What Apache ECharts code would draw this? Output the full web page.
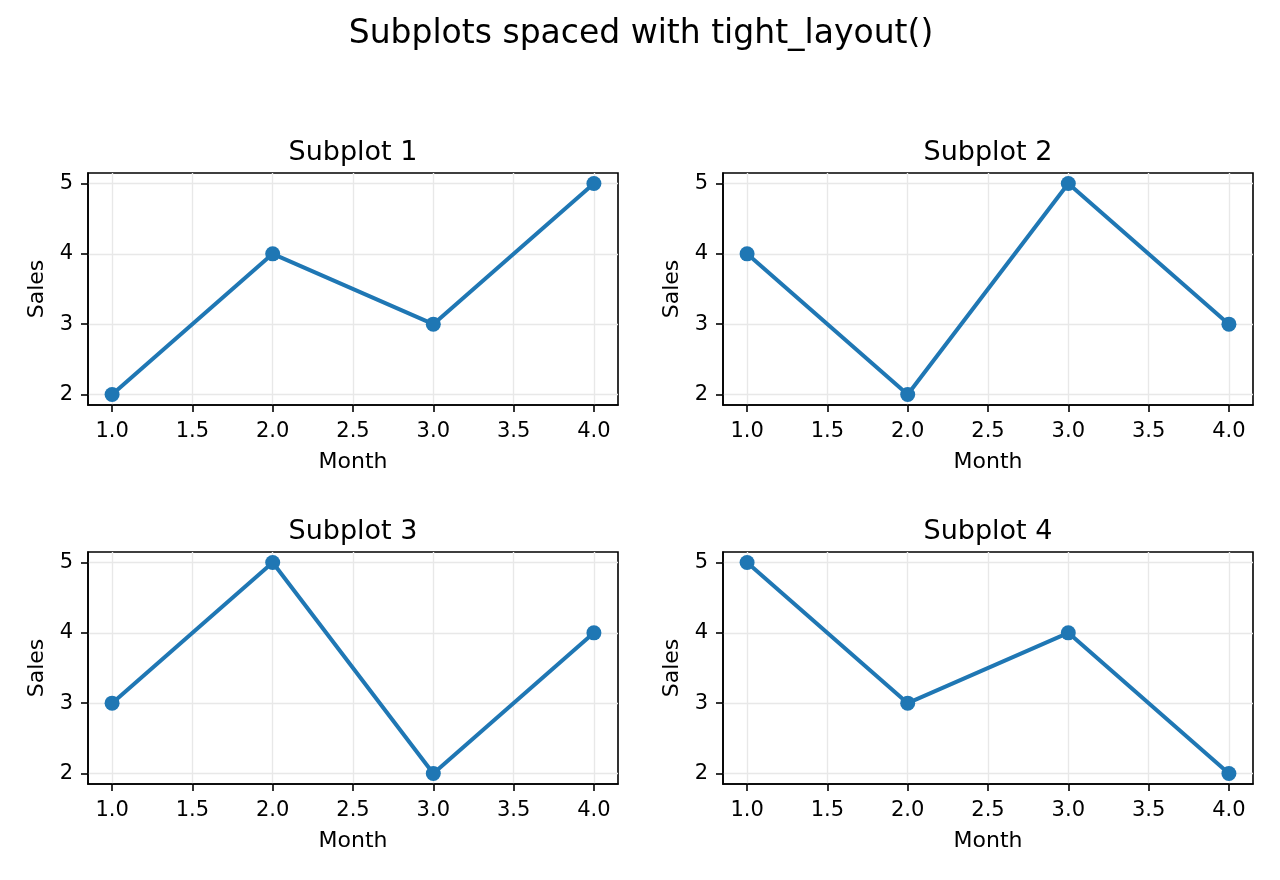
<!DOCTYPE html>
<html>
<head>
<meta charset="utf-8">
<script src="https://cdn.jsdelivr.net/npm/echarts@6/dist/echarts.min.js"></script>
<style>html,body{margin:0;padding:0;background:#fff}#c{width:1280px;height:880px}</style>
</head>
<body>
<div id="c"></div>
<script>
const months = [1, 2, 3, 4];
const sales1 = [2, 4, 3, 5];
const sales2 = [4, 2, 5, 3];
const sales3 = [3, 5, 2, 4];
const sales4 = [5, 3, 4, 2];
const xTicks = [1.0, 1.5, 2.0, 2.5, 3.0, 3.5, 4.0];
const yTicks = [2, 3, 4, 5];
const subTitles = ['Subplot 1', 'Subplot 2', 'Subplot 3', 'Subplot 4'];
const allSales = [sales1, sales2, sales3, sales4];

const FONT = 'DejaVu Sans';
const grids = [
  {left: 88, top: 173, width: 530, height: 232},
  {left: 723, top: 173, width: 530, height: 232},
  {left: 88, top: 552, width: 530, height: 232},
  {left: 723, top: 552, width: 530, height: 232}
];

const option = {
  animation: false,
  backgroundColor: '#fff',
  title: [{
    text: 'Subplots spaced with tight_layout()',
    left: 636, top: 13, textAlign: 'center',
    textStyle: {fontFamily: FONT, fontSize: 33, fontWeight: 'normal', color: '#000'}
  }].concat(subTitles.map((t, i) => ({
    text: t,
    left: grids[i].left + grids[i].width / 2 - 5, top: grids[i].top - 39, textAlign: 'center',
    textStyle: {fontFamily: FONT, fontSize: 27, fontWeight: 'normal', color: '#000'}
  }))),
  grid: grids.map(g => Object.assign({show: true, borderColor: '#000', borderWidth: 1.6, backgroundColor: 'transparent'}, g)),
  xAxis: grids.map((g, i) => ({
    type: 'value', gridIndex: i, min: 0.85, max: 4.15,
    name: 'Month', nameLocation: 'middle', nameGap: 46,
    nameTextStyle: {fontFamily: FONT, fontSize: 22, color: '#000'},
    axisLine: {show: true, onZero: false, lineStyle: {color: '#000', width: 1.6}},
    axisTick: {show: true, length: 7, lineStyle: {color: '#000', width: 1.6}, customValues: xTicks},
    axisLabel: {fontFamily: FONT, fontSize: 21, color: '#000', margin: 16, customValues: xTicks,
      formatter: v => Number(v).toFixed(1)},
    splitLine: {show: true, lineStyle: {color: '#e8e8e8', width: 1.4}}
  })),
  yAxis: grids.map((g, i) => ({
    type: 'value', gridIndex: i, min: 1.85, max: 5.15,
    name: 'Sales', nameLocation: 'middle', nameGap: 40, nameRotate: 90,
    nameTextStyle: {fontFamily: FONT, fontSize: 22, color: '#000'},
    axisLine: {show: true, onZero: false, lineStyle: {color: '#000', width: 1.6}},
    axisTick: {show: true, length: 7, lineStyle: {color: '#000', width: 1.6}, customValues: yTicks},
    axisLabel: {fontFamily: FONT, fontSize: 21, color: '#000', margin: 15, customValues: yTicks,
      formatter: v => String(Math.round(v))},
    splitLine: {show: true, lineStyle: {color: '#e8e8e8', width: 1.4}}
  })),
  series: allSales.map((s, i) => ({
    type: 'line', xAxisIndex: i, yAxisIndex: i,
    data: months.map((m, j) => [m, s[j]]),
    symbol: 'circle', symbolSize: 15,
    lineStyle: {color: '#1f77b4', width: 4},
    itemStyle: {color: '#1f77b4'},
    z: 3
  }))
};
echarts.init(document.getElementById('c')).setOption(option);
</script>
</body>
</html>
